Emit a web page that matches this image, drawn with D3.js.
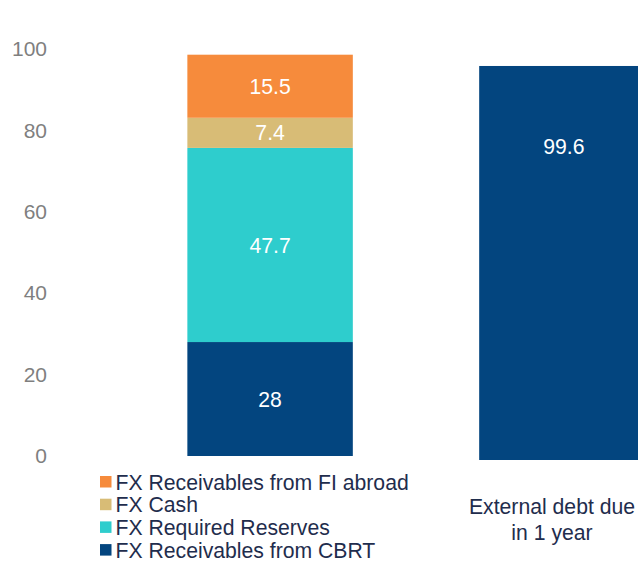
<!DOCTYPE html>
<html>
<head>
<meta charset="utf-8">
<script src="https://cdn.jsdelivr.net/npm/d3@7"></script>
<style>
  html, body { margin: 0; padding: 0; background: #fff; }
  svg { display: block; }
  text { font-family: Arial, "Liberation Sans", sans-serif; }
</style>
</head>
<body>
<svg id="chart" width="638" height="563"></svg>
<script>
// ---- data ----
const categories = ["FX assets", "External debt due in 1 year"];
const seriesNames = ["FX Receivables from CBRT", "FX Required Reserves", "FX Cash", "FX Receivables from FI abroad"];
const seriesValues = [28, 47.7, 7.4, 15.5];
const seriesColors = ["#03457f", "#2ecdcd", "#d8bc76", "#f68b3c"];
const debtValue = [99.6];
const debtColor = "#03457f";
const yTicks = [0, 20, 40, 60, 80, 100];
const categoryLabelLines = ["External debt due", "in 1 year"];

// ---- layout ----
const svg = d3.select("#chart");
const FS = "21.2px";

const x = d3.scaleBand().domain(categories).range([61, 771]).padding(0.433);
const y = d3.scaleLinear().domain([0, 100]).range([456, 49]);
// second bar sits on its own (secondary, hidden) value axis
const y2 = d3.scaleLinear().domain([0, 100]).range([460, 64.4]);

// y axis (labels only)
const yAxis = d3.axisLeft(y).tickValues(yTicks).tickSize(0).tickPadding(0);
const gy = svg.append("g").attr("transform", "translate(47,0)").call(yAxis);
gy.select(".domain").remove();
gy.selectAll("text")
  .attr("fill", "#7f7f7f")
  .style("font-size", "21px")
  .style("font-family", "Arial, 'Liberation Sans', sans-serif");

// stacked bar
const stackData = [Object.fromEntries(seriesNames.map((n, i) => [n, seriesValues[i]]))];
const stacked = d3.stack().keys(seriesNames)(stackData);
const bx = x(categories[0]), bw = x.bandwidth();

const segs = svg.append("g").selectAll("g.seg").data(stacked).join("g").attr("class", "seg");
segs.append("rect")
  .attr("x", bx)
  .attr("width", bw)
  .attr("y", d => y(d[0][1]))
  .attr("height", d => y(d[0][0]) - y(d[0][1]))
  .attr("fill", (d, i) => seriesColors[i]);
segs.append("text")
  .attr("x", bx + bw / 2)
  .attr("y", d => (y(d[0][0]) + y(d[0][1])) / 2)
  .attr("dy", "0.36em")
  .attr("text-anchor", "middle")
  .attr("fill", "#ffffff")
  .style("font-size", FS)
  .text((d, i) => seriesValues[i]);

// debt bar
const dx = x(categories[1]);
svg.append("g").selectAll("rect").data(debtValue).join("rect")
  .attr("x", dx)
  .attr("width", bw)
  .attr("y", d => y2(d))
  .attr("height", d => y2(0) - y2(d))
  .attr("fill", debtColor);
svg.append("g").selectAll("text").data(debtValue).join("text")
  .attr("x", dx + bw / 2 + 2)
  .attr("y", d => y2(d) + 80)
  .attr("dy", "0.36em")
  .attr("text-anchor", "middle")
  .attr("fill", "#ffffff")
  .style("font-size", FS)
  .text(d => d);

// category label for debt bar
const cl = svg.append("text")
  .attr("x", 552)
  .attr("y", 514)
  .attr("text-anchor", "middle")
  .attr("fill", "#1f2d4d")
  .style("font-size", FS);
cl.selectAll("tspan").data(categoryLabelLines).join("tspan")
  .attr("x", 552)
  .attr("dy", (d, i) => i === 0 ? 0 : 25.5)
  .text(d => d);

// legend (top series first)
const legendOrder = seriesNames.map((n, i) => ({ name: n, color: seriesColors[i] })).reverse();
const lg = svg.append("g").attr("transform", "translate(100,482)");
const items = lg.selectAll("g").data(legendOrder).join("g")
  .attr("transform", (d, i) => `translate(0,${i * 22.7})`);
items.append("rect")
  .attr("x", 0).attr("y", -6)
  .attr("width", 11.5).attr("height", 11.5)
  .attr("fill", d => d.color);
items.append("text")
  .attr("x", 15.5)
  .attr("y", 0)
  .attr("dy", "0.36em")
  .attr("fill", "#1f2d4d")
  .style("font-size", FS)
  .text(d => d.name);
</script>
</body>
</html>
